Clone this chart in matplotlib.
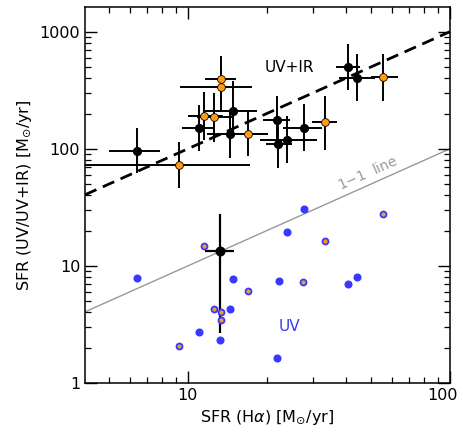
import matplotlib
matplotlib.use("Agg")
import matplotlib.pyplot as plt
import matplotlib.transforms as mtransforms
import numpy as np

# Upper (UV+IR) black points: x, y, x_low, x_high, y_low, y_high
blk_x = [6.4, 11.0, 14.9, 14.5, 21.9, 22.1, 23.9, 27.8, 40.9, 44.4]
blk_y = [95, 152, 209, 133, 177, 110, 118, 151, 499, 405]
blk_xlo = [5.0, 9.5, 11.6, 11.8, 19.4, 19.8, 18.8, 23.1, 36.7, 37.6]
blk_xhi = [7.8, 12.5, 18.3, 20.2, 24.5, 24.9, 31.0, 32.4, 45.3, 51.8]
blk_ylo = [62, 95, 140, 83, 108, 68, 75, 95, 315, 254]
blk_yhi = [150, 238, 376, 208, 284, 171, 189, 243, 789, 649]

# Upper (UV+IR) orange points
org_x = [9.24, 11.5, 12.6, 13.4, 13.4, 17.0, 33.4, 55.6]
org_y = [73, 189, 187, 395, 337, 135, 170, 407]
org_xlo = [2.0, 10.0, 10.8, 11.6, 9.3, 15.6, 29.9, 50.2]
org_xhi = [17.3, 13.6, 14.7, 15.3, 17.5, 20.0, 37.2, 63.5]
org_ylo = [46, 119, 115, 250, 215, 86, 98, 258]
org_yhi = [115, 303, 299, 624, 500, 215, 284, 649]

# Lower black point
low_x = [13.3]
low_y = [13.3]
low_xlo = [11.6]
low_xhi = [15.0]
low_ylo = [2.66]
low_yhi = [27.8]

# UV points (blue)
uv_x = [6.4, 11.0, 13.3, 14.5, 14.9, 22.2, 21.9, 23.9, 27.8, 40.9, 44.4]
uv_y = [7.85, 2.73, 2.33, 4.28, 7.69, 7.45, 1.64, 19.6, 30.5, 7.06, 8.06]
# UV points (blue ring, orange centre)
uvo_x = [11.5, 9.24, 12.6, 13.4, 13.4, 17.0, 27.6, 33.4, 55.6]
uvo_y = [14.7, 2.06, 4.31, 4.05, 3.44, 6.08, 7.26, 16.4, 28.0]

x_ticks = [10, 100]
x_ticklabels = ['10', '100']
y_ticks = [1, 10, 100, 1000]
y_ticklabels = ['1', '10', '100', '1000']

ORANGE = '#ff9a14'
BLUE = '#3838ff'

fig = plt.figure(figsize=(4.63, 4.38), dpi=100)
ax = fig.add_axes([0.1836, 0.1256, 0.788, 0.858])
ax.set_xscale('log')
ax.set_yscale('log')
ax.set_xlim(4.05, 100)
ax.set_ylim(1, 1620)

# reference lines
lx = np.array([4.05, 100])
ax.plot(lx, lx, color='#999999', lw=1.0, zorder=1)
ax.plot(lx, 10 * lx, color='black', lw=2.0, dashes=(4.5, 2.5), zorder=1)

def errs(v, lo, hi):
    v = np.array(v); lo = np.array(lo); hi = np.array(hi)
    return np.vstack([v - lo, hi - v])

ax.errorbar(blk_x, blk_y, xerr=errs(blk_x, blk_xlo, blk_xhi), yerr=errs(blk_y, blk_ylo, blk_yhi),
            fmt='o', color='black', ms=5.6, mfc='black', mec='black', elinewidth=1.4,
            capsize=0, zorder=3)
ax.errorbar(org_x, org_y, xerr=errs(org_x, org_xlo, org_xhi), yerr=errs(org_y, org_ylo, org_yhi),
            fmt='o', color='black', ms=5.6, mfc=ORANGE, mec='black', mew=0.6, elinewidth=1.4,
            capsize=0, zorder=3)
ax.errorbar(low_x, low_y, xerr=errs(low_x, low_xlo, low_xhi), yerr=errs(low_y, low_ylo, low_yhi),
            fmt='o', color='black', ms=6.2, mfc='black', mec='black', elinewidth=1.6,
            capsize=0, zorder=3)

ax.plot(uv_x, uv_y, 'o', ms=4.8, mfc=BLUE, mec=BLUE, lw=0, zorder=4)
ax.plot(uvo_x, uvo_y, 'o', ms=4.3, mfc=ORANGE, mec=BLUE, mew=1.3, lw=0, zorder=4)

ax.text(24.5, 490, 'UV+IR', fontsize=11, ha='center', va='center', color='black')
ax.text(24.5, 3.03, 'UV', fontsize=11, ha='center', va='center', color=BLUE)
ax.text(48.7, 62, '1$-$1  line', fontsize=10, ha='center', va='center', color='#999999',
        rotation=24, rotation_mode='anchor')

ax.tick_params(which='both', direction='in', top=True, right=True, labelsize=11.5)
ax.tick_params(which='major', length=8.5, width=1.0)
ax.tick_params(which='minor', length=4.6, width=0.9)
ax.set_xticks(x_ticks)
ax.set_xticklabels(x_ticklabels)
ax.set_yticks(y_ticks)
ax.set_yticklabels(y_ticklabels)
for s in ax.spines.values():
    s.set_linewidth(1.1)

# shift the last x tick label slightly left so it stays inside the figure
lab = ax.get_xticklabels()[-1]
lab.set_transform(lab.get_transform() + mtransforms.ScaledTranslation(-7 / 100, 0, fig.dpi_scale_trans))

ax.set_xlabel(r'SFR (H$\alpha$) [$\mathrm{M}_{\odot}$/yr]', fontsize=11.5)
ax.set_ylabel(r'SFR (UV/UV+IR) [$\mathrm{M}_{\odot}$/yr]', fontsize=11.5)

fig.savefig('out.png', dpi=100)
